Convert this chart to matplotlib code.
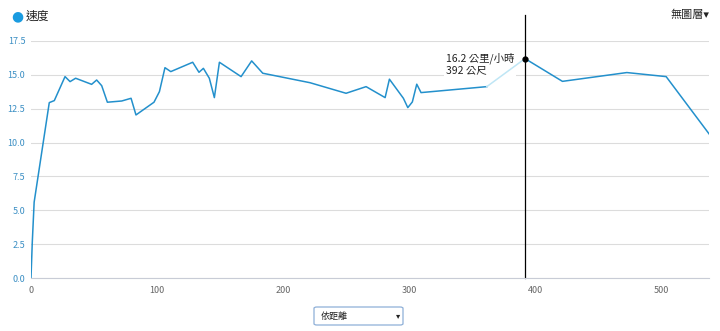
import matplotlib
matplotlib.use("Agg")
import matplotlib.pyplot as plt
from matplotlib.patches import FancyBboxPatch

plt.rcParams['font.family'] = ['Noto Sans CJK TC', 'DejaVu Sans']

# distance (m) vs speed (km/h)
dist = [0, 1, 2.5, 14.5, 18.5, 27, 31, 35.4, 48.1, 52.1, 56.1, 60.6, 72, 79.4,
        83.3, 97.6, 101.9, 106.3, 110.9, 128.3, 133.3, 136.8, 141.5, 145.5,
        149.5, 166.7, 175.1, 183.9, 221.4, 250, 265.9, 281, 284.4, 295.5,
        299, 302.6, 306.1, 309.5, 361.7]
speed = [0, 2.6, 5.6, 12.95, 13.1, 14.87, 14.5, 14.75, 14.3, 14.62, 14.2,
         12.98, 13.07, 13.27, 12.04, 12.98, 13.76, 15.53, 15.24, 15.93, 15.19,
         15.48, 14.75, 13.32, 15.93, 14.87, 16.03, 15.12, 14.42, 13.64, 14.13,
         13.32, 14.68, 13.27, 12.58, 13.0, 14.31, 13.69, 14.13]
dist_after = [392, 421.7, 472.8, 504, 540]
speed_after = [16.2, 14.52, 15.17, 14.87, 10.4]

hover_dist = 392
hover_speed = 16.2

yticks = [0, 2.5, 5, 7.5, 10, 12.5, 15, 17.5]
xticks = [0, 100, 200, 300, 400, 500]

line_color = '#2390cc'
fig = plt.figure(figsize=(7.2, 3.31), dpi=100)
ax = fig.add_axes([31 / 720, 1 - 278 / 331, (709 - 31) / 720, (278 - 41) / 331])

ax.plot(dist, speed, color=line_color, lw=1.1)
ax.plot([dist[-1], hover_dist], [speed[-1], hover_speed], color='#bfe6f5', lw=1.1)
ax.plot(dist_after, speed_after, color=line_color, lw=1.1)
ax.plot([hover_dist], [hover_speed], 'o', color='black', ms=3.5, zorder=5)
ax.axvline(hover_dist, ymin=0, ymax=1.11, color='black', lw=0.9, clip_on=False)

ax.set_xlim(0, 538)
ax.set_ylim(0, 17.5)
ax.set_yticks(yticks)
ax.set_yticklabels(['%.1f' % v for v in yticks])
ax.set_xticks(xticks)
ax.grid(axis='y', color='#dcdcdc', lw=0.8)
ax.set_axisbelow(True)
for s in ['top', 'right', 'left']:
    ax.spines[s].set_visible(False)
ax.spines['bottom'].set_color('#c8ccd6')
ax.tick_params(axis='y', length=0, labelsize=6.5, labelcolor='#3b8fc4', pad=4)
ax.tick_params(axis='x', length=0, labelsize=6.5, labelcolor='#666666', pad=6)

# hover readout: white backing hides the grid but sits under the line
ax.text(hover_dist - 63, 15.84, '16.2 公里/小時\n392 公尺', fontsize=7.5,
        color='#222222', va='center', linespacing=1.1, zorder=1.5,
        bbox=dict(facecolor='white', edgecolor='none', pad=1.5))

# legend and layer menu
fig.text(17 / 720, 1 - 16 / 331, '●', color='#1a9be0', fontsize=10,
         ha='center', va='center', family=['DejaVu Sans'])
fig.text(26 / 720, 1 - 16 / 331, '速度', fontsize=8.5, color='#222222',
         va='center')
fig.text(710 / 720, 1 - 15 / 331, '無圖層▾', fontsize=8, color='#222222',
         ha='right', va='center', family=['Noto Sans CJK TC', 'DejaVu Sans'])

# distance selector
box = FancyBboxPatch((314 / 720, 1 - 325 / 331), 89 / 720, 18 / 331,
                     boxstyle='round,pad=0,rounding_size=0.004',
                     transform=fig.transFigure, facecolor='white',
                     edgecolor='#8fb0d8', lw=0.9)
fig.patches.append(box)
fig.text(321 / 720, 1 - 316 / 331, '依距離', fontsize=6.5, color='#222222',
         va='center')
fig.text(398 / 720, 1 - 316 / 331, '▾', fontsize=6, color='#222222',
         ha='center', va='center', family=['DejaVu Sans'])

fig.savefig('out.png', dpi=100)
